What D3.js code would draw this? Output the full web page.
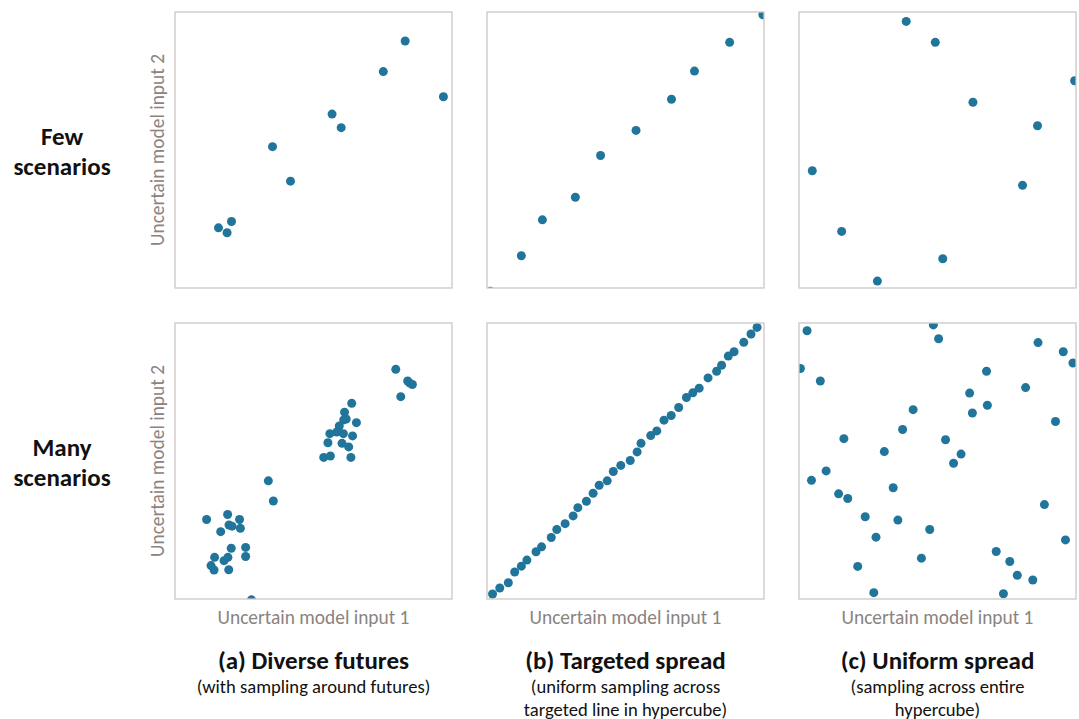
<!DOCTYPE html>
<html><head><meta charset="utf-8">
<script src="https://cdn.jsdelivr.net/npm/d3@7"></script>
<style>
html,body{margin:0;padding:0;background:#fff;}
svg{display:block;}
</style></head>
<body>
<svg id="chart" width="1079" height="719"></svg>
<script>
// Normalised sample positions [input1, input2] in [0,1]
const fewDiverse = [[0.831,0.895],[0.752,0.784],[0.969,0.693],[0.567,0.630],[0.600,0.581],[0.352,0.512],[0.417,0.387],[0.204,0.241],[0.157,0.218],[0.188,0.200]];
const fewTargeted = [[0.996,0.990],[0.876,0.890],[0.749,0.786],[0.666,0.684],[0.538,0.571],[0.410,0.480],[0.319,0.329],[0.200,0.247],[0.124,0.117],[0.012,-0.012]];
const fewUniform = [[0.387,0.966],[0.492,0.890],[0.995,0.751],[0.628,0.673],[0.861,0.588],[0.048,0.425],[0.807,0.372],[0.154,0.205],[0.519,0.106],[0.283,0.025]];
const manyDiverse = [[0.797,0.832],[0.840,0.790],[0.848,0.782],[0.857,0.777],[0.815,0.733],[0.638,0.709],[0.612,0.677],[0.618,0.652],[0.609,0.649],[0.655,0.639],[0.593,0.627],[0.584,0.605],[0.559,0.599],[0.608,0.599],[0.641,0.591],[0.552,0.566],[0.603,0.564],[0.627,0.551],[0.537,0.513],[0.561,0.518],[0.635,0.513],[0.337,0.428],[0.355,0.355],[0.114,0.288],[0.190,0.306],[0.233,0.288],[0.195,0.268],[0.206,0.264],[0.236,0.256],[0.165,0.244],[0.203,0.184],[0.255,0.187],[0.255,0.154],[0.143,0.151],[0.191,0.151],[0.177,0.139],[0.130,0.121],[0.141,0.105],[0.194,0.106],[0.276,-0.003]];
const manyTargeted = [[0.020,0.018],[0.046,0.040],[0.077,0.059],[0.100,0.098],[0.124,0.119],[0.144,0.141],[0.177,0.171],[0.197,0.189],[0.232,0.223],[0.252,0.252],[0.282,0.273],[0.311,0.301],[0.328,0.331],[0.359,0.354],[0.383,0.383],[0.405,0.412],[0.434,0.428],[0.456,0.462],[0.483,0.484],[0.517,0.502],[0.542,0.533],[0.556,0.564],[0.591,0.592],[0.613,0.609],[0.639,0.648],[0.665,0.665],[0.692,0.694],[0.720,0.730],[0.743,0.747],[0.766,0.764],[0.798,0.801],[0.829,0.825],[0.847,0.847],[0.871,0.880],[0.892,0.896],[0.927,0.930],[0.953,0.960],[0.975,0.984]];
const manyUniform = [[0.029,0.972],[0.485,0.993],[0.504,0.943],[0.863,0.929],[0.954,0.896],[0.989,0.855],[0.005,0.835],[0.677,0.825],[0.077,0.790],[0.818,0.766],[0.616,0.746],[0.680,0.702],[0.626,0.674],[0.412,0.686],[0.926,0.643],[0.374,0.614],[0.162,0.581],[0.529,0.577],[0.308,0.534],[0.585,0.525],[0.558,0.492],[0.098,0.464],[0.045,0.430],[0.340,0.403],[0.143,0.381],[0.176,0.364],[0.886,0.342],[0.239,0.298],[0.357,0.286],[0.472,0.252],[0.278,0.224],[0.962,0.214],[0.712,0.172],[0.442,0.148],[0.761,0.136],[0.212,0.118],[0.788,0.086],[0.844,0.069],[0.270,0.023],[0.738,0.019]];

const rowLabels = [["Few","scenarios"],["Many","scenarios"]];
const colTitles = ["(a) Diverse futures","(b) Targeted spread","(c) Uniform spread"];
const colSubtitles = [["(with sampling around futures)"],["(uniform sampling across","targeted line in hypercube)"],["(sampling across entire","hypercube)"]];
const xAxisLabel = "Uncertain model input 1";
const yAxisLabel = "Uncertain model input 2";

const grid = [[fewDiverse,fewTargeted,fewUniform],[manyDiverse,manyTargeted,manyUniform]];

const svg = d3.select("#chart");
const font = "Carlito, Calibri, 'Liberation Sans Narrow', 'Open Sans', sans-serif";
const colX = [175, 487, 799];
const rowY = [12, 323];
const pw = 277, ph = 276;
const dotColor = "#21759b";
const frameColor = "#cdc6c2";
const labelColor = "#8a8380";

const x = d3.scaleLinear().domain([0,1]).range([0,pw]);
const y = d3.scaleLinear().domain([0,1]).range([ph,0]);

grid.forEach((row, r) => {
  row.forEach((data, c) => {
    const g = svg.append("g").attr("transform", `translate(${colX[c]},${rowY[r]})`);
    const id = `clip-${r}-${c}`;
    g.append("clipPath").attr("id", id).append("rect").attr("width", pw).attr("height", ph);
    g.append("g").attr("clip-path", `url(#${id})`)
      .selectAll("circle").data(data).join("circle")
      .attr("cx", d => x(d[0])).attr("cy", d => y(d[1])).attr("r", 4.5)
      .attr("fill", dotColor);
    g.append("rect").attr("width", pw).attr("height", ph)
      .attr("fill", "none").attr("stroke", frameColor).attr("stroke-width", 1.3);
  });
});

// y-axis labels (left column)
rowY.forEach(ry => {
  svg.append("text")
    .attr("transform", `translate(164,${ry + ph/2}) rotate(-90)`)
    .attr("text-anchor", "middle")
    .attr("font-family", font).attr("font-size", 19.4).attr("fill", labelColor)
    .text(yAxisLabel);
});

// x-axis labels (bottom row)
colX.forEach(cx => {
  svg.append("text")
    .attr("x", cx + pw/2).attr("y", 624)
    .attr("text-anchor", "middle")
    .attr("font-family", font).attr("font-size", 19.4).attr("fill", labelColor)
    .text(xAxisLabel);
});

// row labels
rowLabels.forEach((lines, r) => {
  const cy = rowY[r] + ph/2;
  lines.forEach((t, i) => {
    svg.append("text")
      .attr("x", 62).attr("y", cy - 5 + i*30)
      .attr("text-anchor", "middle")
      .attr("font-family", font).attr("font-size", 25).attr("font-weight", "bold").attr("fill", "#111")
      .text(t);
  });
});

// column titles
colTitles.forEach((t, c) => {
  const cx = colX[c] + pw/2;
  svg.append("text")
    .attr("x", cx).attr("y", 669)
    .attr("text-anchor", "middle")
    .attr("font-family", font).attr("font-size", 25).attr("font-weight", "bold").attr("fill", "#111")
    .text(t);
  colSubtitles[c].forEach((s, i) => {
    svg.append("text")
      .attr("x", cx).attr("y", 693 + i*22.5)
      .attr("text-anchor", "middle")
      .attr("font-family", font).attr("font-size", 18.6).attr("fill", "#111")
      .text(s);
  });
});
</script>
</body></html>
